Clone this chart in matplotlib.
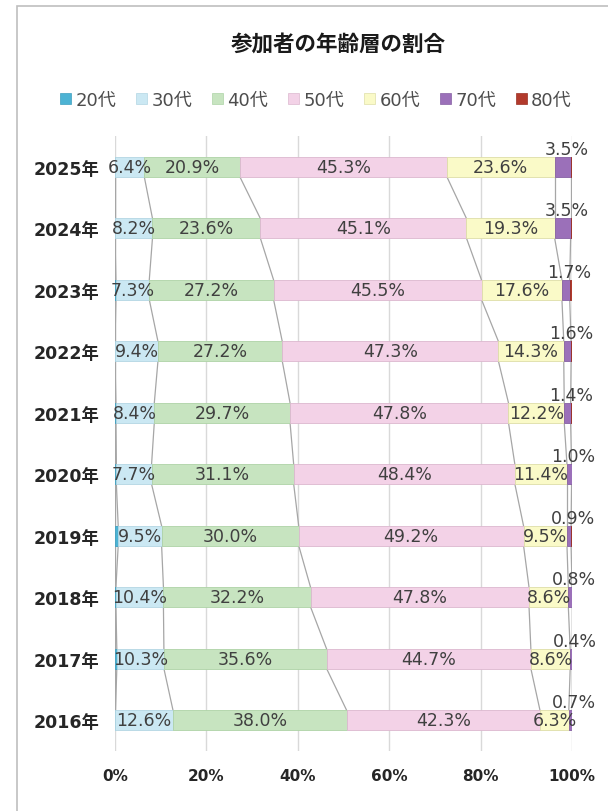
import matplotlib
matplotlib.use("Agg")
import matplotlib.pyplot as plt
from matplotlib.patches import Rectangle, Patch
import numpy as np

plt.rcParams['font.family'] = ['DejaVu Sans', 'Noto Sans CJK JP']

years = ['2016年', '2017年', '2018年', '2019年', '2020年', '2021年', '2022年', '2023年', '2024年', '2025年']
series_names = ['20代', '30代', '40代', '50代', '60代', '70代', '80代']
v20 = [0.1, 0.4, 0.2, 0.7, 0.3, 0.2, 0.0, 0.2, 0.0, 0.0]
v30 = [12.6, 10.3, 10.4, 9.5, 7.7, 8.4, 9.4, 7.3, 8.2, 6.4]
v40 = [38.0, 35.6, 32.2, 30.0, 31.1, 29.7, 27.2, 27.2, 23.6, 20.9]
v50 = [42.3, 44.7, 47.8, 49.2, 48.4, 47.8, 47.3, 45.5, 45.1, 45.3]
v60 = [6.3, 8.6, 8.6, 9.5, 11.4, 12.2, 14.3, 17.6, 19.3, 23.6]
v70 = [0.7, 0.4, 0.8, 0.9, 1.0, 1.4, 1.6, 1.7, 3.5, 3.5]
v80 = [0.0, 0.0, 0.0, 0.2, 0.1, 0.3, 0.2, 0.5, 0.3, 0.3]
x_ticks = [0, 20, 40, 60, 80, 100]
x_ticklabels = ['0%', '20%', '40%', '60%', '80%', '100%']

colors = ['#4db3d4', '#cbe8f3', '#c7e4c0', '#f3d2e7', '#fafac8', '#9b70b9', '#b23a2c']
edges = ['#3f9fbf', '#b3d6e3', '#aed3a6', '#dcb8cf', '#dedea8', '#8660a3', '#9a2f23']

data = np.array([v20, v30, v40, v50, v60, v70, v80])
W, H = 608, 812
fig = plt.figure(figsize=(W / 100, H / 100), dpi=100)
ax = fig.add_axes([115 / W, (H - 752) / H, (572 - 115) / W, (752 - 137) / H])

ypos = np.arange(len(years))
bh = 0.32
left = np.zeros(len(years))
cums = []
for k in range(len(series_names)):
    ax.barh(ypos, data[k], left=left, height=bh, color=colors[k],
            edgecolor=edges[k], linewidth=0.6, zorder=3)
    centers = left + data[k] / 2
    for i in range(len(years)):
        if 1 <= k <= 4:
            ax.text(centers[i], ypos[i], f'{data[k][i]:.1f}%', ha='center', va='center',
                    fontsize=12.5, color='#404040', zorder=5)
        elif k == 5:
            ax.text(centers[i] + 0.8, ypos[i] + 0.29, f'{data[k][i]:.1f}%', ha='center',
                    va='center', fontsize=12.5, color='#404040', zorder=5)
    left = left + data[k]
    cums.append(left.copy())

# series lines
for c in [np.zeros(len(years))] + cums:
    for i in range(len(years) - 1):
        ax.plot([c[i], c[i + 1]], [ypos[i] + bh / 2, ypos[i + 1] - bh / 2],
                color='#a6a6a6', lw=0.9, zorder=2)

ax.set_xlim(0, 100)
ax.set_ylim(-0.5, len(years) - 0.5)
ax.set_xticks(x_ticks)
ax.set_xticklabels(x_ticklabels, fontsize=11, fontweight='bold', color='#262626')
ax.set_yticks(ypos)
ax.set_yticklabels(years, fontsize=12.5, fontweight='bold', color='#262626')
ax.tick_params(axis='both', length=0)
ax.tick_params(axis='x', pad=12)
ax.tick_params(axis='y', pad=11)
for s in ax.spines.values():
    s.set_visible(False)
ax.xaxis.grid(True, color='#d9d9d9', lw=1, zorder=0)
ax.set_axisbelow(True)

fig.text(338 / W, 1 - 45 / H, '参加者の年齢層の割合', ha='center', va='center',
         fontsize=15.5, fontweight='bold', color='#1a1a1a', family=['Noto Sans CJK JP'])

handles = [Patch(facecolor=colors[k], edgecolor=edges[k], lw=0.5) for k in range(len(series_names))]
leg = fig.legend(handles, series_names, loc='center', bbox_to_anchor=(316 / W, 1 - 101 / H),
                 ncol=7, frameon=False, fontsize=13, handlelength=0.6, handleheight=0.6,
                 handletextpad=0.25, columnspacing=1.1, labelcolor='#4d4d4d')

fig.patches.append(Rectangle((17 / W, -0.05), 2.0, (H - 7) / H + 0.05, transform=fig.transFigure,
                             fill=False, edgecolor='#bfbfbf', lw=1.2))

fig.savefig('out.png', dpi=100)
